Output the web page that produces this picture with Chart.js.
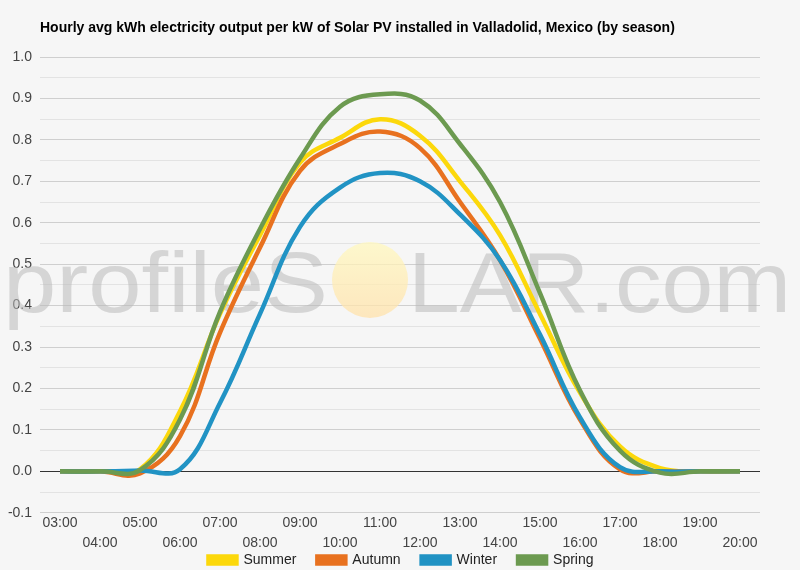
<!DOCTYPE html>
<html>
<head>
<meta charset="utf-8">
<script src="https://cdn.jsdelivr.net/npm/chart.js@4.4.1/dist/chart.umd.min.js"></script>
<style>
  html, body { margin: 0; padding: 0; background: #f6f6f6; }
  #wrap { width: 800px; height: 570px; position: relative; }
</style>
</head>
<body>
<div id="wrap"><canvas id="chart"></canvas></div>
<script>
// hours of the day
const hours = ["03:00","04:00","05:00","06:00","07:00","08:00","09:00","10:00","11:00",
  "12:00","13:00","14:00","15:00","16:00","17:00","18:00","19:00","20:00"];

// kWh per kW
const summer = [0, 0, 0.005, 0.145, 0.38, 0.57, 0.745, 0.805, 0.85, 0.81, 0.70, 0.57, 0.38, 0.19, 0.06, 0.008, 0, 0];
const autumn = [0, 0, -0.005, 0.085, 0.335, 0.54, 0.725, 0.79, 0.82, 0.78, 0.65, 0.51, 0.32, 0.125, 0.005, 0, 0, 0];
const winter = [0, 0, 0.002, 0.005, 0.165, 0.38, 0.59, 0.685, 0.72, 0.70, 0.62, 0.51, 0.33, 0.13, 0.01, 0, 0, 0];
const spring = [0, 0, 0.003, 0.125, 0.385, 0.585, 0.755, 0.88, 0.91, 0.895, 0.79, 0.65, 0.43, 0.195, 0.05, -0.003, 0, 0];

const seasonNames = ["Summer", "Autumn", "Winter", "Spring"];
const seasonColors = ["#fcd80b", "#e8711f", "#2193c4", "#6c9a50"];

const yMin = -0.1, yMax = 1.0, yStep = 0.05;

const titleText = "Hourly avg kWh electricity output per kW of Solar PV installed in Valladolid, Mexico (by season)";
const FONT = "'Liberation Sans', Arial, sans-serif";

// staggered x labels: even ones on the first line, odd ones on the second
const xLabels = hours.map((h, i) => i % 2 === 0 ? [h, ""] : ["", h]);

// watermark + title, and nudge the legend up / right
const decor = {
  id: "decor",
  afterLayout(chart) {
    const lg = chart.legend;
    if (lg) {
      lg.top -= 22; lg.bottom -= 22;
      lg.left += 21; lg.right += 21;
    }
  },
  beforeDatasetsDraw(chart) {
    const ctx = chart.ctx;
    ctx.save();
    ctx.fillStyle = "rgba(185,185,185,0.55)";
    ctx.font = "86px " + FONT;
    ctx.textBaseline = "alphabetic";
    let w1 = ctx.measureText("profileS").width;
    ctx.save();
    ctx.translate(3, 312);
    ctx.scale(325 / w1, 1);
    ctx.fillText("profileS", 0, 0);
    ctx.restore();
    let w2 = ctx.measureText("LAR.com").width;
    ctx.save();
    ctx.translate(408, 312);
    ctx.scale(383 / w2, 1);
    ctx.fillText("LAR.com", 0, 0);
    ctx.restore();
    const g = ctx.createLinearGradient(0, 242, 0, 318);
    g.addColorStop(0, "rgba(255,248,190,0.75)");
    g.addColorStop(1, "rgba(255,225,170,0.75)");
    ctx.fillStyle = g;
    ctx.beginPath();
    ctx.ellipse(370, 280, 38, 38, 0, 0, Math.PI * 2);
    ctx.fill();
    ctx.restore();
  },
  afterDraw(chart) {
    const ctx = chart.ctx;
    ctx.save();
    ctx.fillStyle = "#000";
    ctx.font = "bold 14px " + FONT;
    ctx.textBaseline = "middle";
    ctx.fillText(titleText, chart.chartArea.left, 28);
    ctx.restore();
  }
};

const datasets = [summer, autumn, winter, spring].map((d, i) => ({
  label: seasonNames[i],
  data: d,
  borderColor: seasonColors[i],
  backgroundColor: seasonColors[i],
  borderWidth: 4.5,
  pointRadius: 0,
  tension: 0.4,
  fill: false,
  order: 3 - i
}));

new Chart(document.getElementById("chart"), {
  type: "line",
  data: { labels: xLabels, datasets: datasets },
  options: {
    responsive: true,
    maintainAspectRatio: false,
    animation: false,
    events: [],
    layout: { padding: { top: 57, right: 40, left: 0, bottom: -29 } },
    scales: {
      x: {
        offset: true,
        grid: { display: false, drawTicks: false },
        border: { display: false },
        ticks: {
          color: "#444",
          font: { family: FONT, size: 14, lineHeight: 1.4 },
          autoSkip: false,
          maxRotation: 0,
          padding: 1
        }
      },
      y: {
        min: yMin,
        max: yMax,
        afterFit(scale) { scale.width = 40; },
        grid: {
          drawTicks: false,
          lineWidth: 1,
          color(c) {
            const v = Math.round(c.tick.value * 100);
            if (v === 0) return "#333";
            return v % 10 === 0 ? "#cfcfcf" : "#e3e3e3";
          }
        },
        border: { display: false },
        ticks: {
          stepSize: yStep,
          padding: 8,
          color: "#444",
          font: { family: FONT, size: 14 },
          callback(v) {
            const r = Math.round(v * 100);
            return r % 10 === 0 ? (r / 100).toFixed(1) : "";
          }
        }
      }
    },
    plugins: {
      title: { display: false },
      tooltip: { enabled: false },
      legend: {
        position: "bottom",
        labels: {
          boxWidth: 28,
          boxHeight: 7,
          padding: 21,
          color: "#222",
          font: { family: FONT, size: 14 },
          sort: (a, b) => a.datasetIndex - b.datasetIndex
        }
      }
    }
  },
  plugins: [decor]
});
</script>
</body>
</html>
